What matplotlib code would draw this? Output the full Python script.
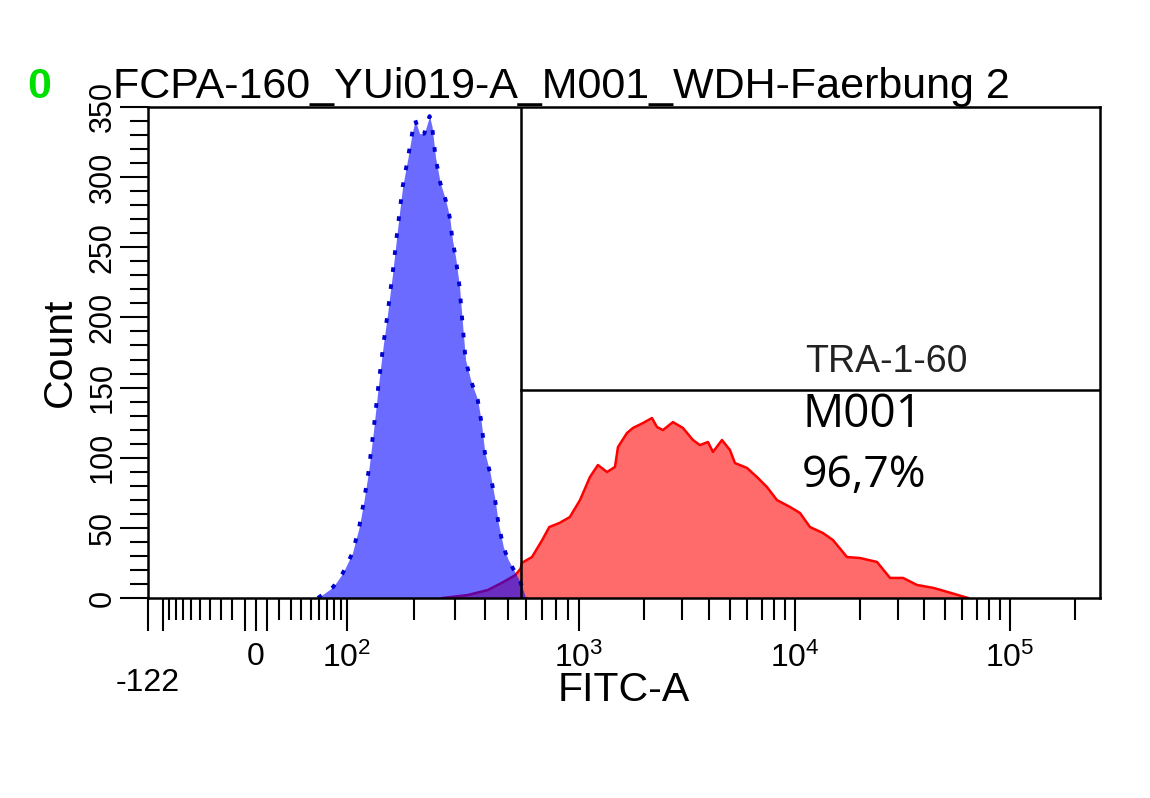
import numpy as np
import matplotlib
matplotlib.use('Agg')
import matplotlib.pyplot as plt

plt.rcParams['font.family'] = ['Liberation Sans', 'DejaVu Sans']
plt.rcParams['mathtext.fontset'] = 'custom'
plt.rcParams['mathtext.rm'] = 'Liberation Sans'
plt.rcParams['mathtext.it'] = 'Liberation Sans'

# ---------------- data ----------------
title = "FCPA-160_YUi019-A_M001_WDH-Faerbung 2"
gate_name = "TRA-1-60"
marker_name = "M001"
marker_pct = "96,7%"
gate_low = 570          # FITC-A value of marker left bound
gate_level = 148        # count level of marker bar

# unstained / control (blue)
blue_x = [58, 78, 93, 106, 114, 120, 126, 132, 139, 146,
          153, 161, 169, 178, 187, 196, 202, 211, 221, 233,
          239, 247, 259, 273, 284, 292, 301, 313, 323, 332,
          349, 374, 386, 401, 422, 443, 457, 480, 504, 540,
          568, 597]
blue_count = [0, 7.8, 17.8, 32, 50.6, 69.8, 91.2, 117.6, 150.4, 178.9,
              203, 231.6, 262.3, 293, 312, 331.4, 340.7, 331, 331, 343.5,
              335.7, 314.3, 295.8, 283.7, 271.6, 255.2, 243, 221.7, 193.2, 169.6,
              155.4, 141.1, 126.9, 103.4, 89.1, 69.8, 53.5, 36.4, 27.1, 17.8,
              10.7, 0]

# stained TRA-1-60 (red)
red_x = [265, 339, 413, 480, 540, 568, 574, 634, 700, 750,
         828, 915, 1011, 1124, 1224, 1348, 1468, 1516, 1668, 1778,
         1978, 2178, 2297, 2448, 2724, 3030, 3372, 3633, 3956, 4173,
         4592, 5000, 5275, 5995, 6672, 7419, 8254, 9482, 10550, 11740,
         13500, 15020, 17450, 20060, 24060, 27670, 31800, 36900, 44300, 53100,
         63800]
red_count = [0, 2.1, 5.7, 11.4, 16.4, 21, 25, 29.2, 41.3, 50.6,
             53.5, 57.7, 69.8, 86.2, 94.8, 89.8, 93.4, 107.6, 117.6, 121.2,
             124.7, 128.3, 121.9, 119.7, 125.4, 121.2, 112.6, 109, 111.2, 104.1,
             112.6, 105.5, 96.2, 92.7, 86.2, 79.1, 69.8, 64.9, 60.6, 50.6,
             46.3, 41.3, 29.2, 28.5, 25.7, 14.3, 14.3, 9.3, 7.1, 3.6,
             0]

x_major = [-122, -100, -10, 0, 10, 100, 1000, 10000, 100000]
x_major_labels = ['', '', '', '0', '', '$10^2$', '$10^3$', '$10^4$', '$10^5$']
x_minor = ([-90, -80, -70, -60, -50, -40, -30, -20]
           + [20, 30, 40, 50, 60, 70, 80, 90]
           + [m * 100 for m in range(2, 10)]
           + [m * 1000 for m in range(2, 10)]
           + [m * 10000 for m in range(2, 10)]
           + [200000])
y_major = [0, 50, 100, 150, 200, 250, 300, 350]
y_minor = [v for v in range(0, 351, 10) if v % 50]

# ------------- biexponential-like display scale -------------
C = 50.0
scale_vals = np.array([-122, -100, -10, 0, 10, 100, 1e3, 1e4, 1e5, 262144.0])
scale_frac = np.array([0.0, 0.0158, 0.1019, 0.1134, 0.1250, 0.2090,
                       0.4527, 0.6796, 0.9055, 1.0])
T = np.arcsinh(scale_vals / C)


def _lin(u, xs, ys):
    y = np.interp(u, xs, ys)
    lo = u < xs[0]
    hi = u > xs[-1]
    y = np.where(lo, ys[0] + (u - xs[0]) * (ys[1] - ys[0]) / (xs[1] - xs[0]), y)
    y = np.where(hi, ys[-1] + (u - xs[-1]) * (ys[-1] - ys[-2]) / (xs[-1] - xs[-2]), y)
    return y


def fwd(x):
    x = np.asarray(x, dtype=float)
    return _lin(np.arcsinh(x / C), T, scale_frac)


def inv(f):
    f = np.asarray(f, dtype=float)
    return C * np.sinh(_lin(f, scale_frac, T))


# ---------------- figure ----------------
W, H = 1150, 798
fig = plt.figure(figsize=(W / 100, H / 100), dpi=100)
ax = fig.add_axes([148 / W, 1 - 598 / H, 952 / W, 491 / H])
ax.set_xscale('function', functions=(fwd, inv))
ax.set_xlim(-122, 262144)
ax.set_ylim(0, 350)

ax.fill_between(red_x, red_count, 0, color='#ff6b6b', lw=0, zorder=1)
ax.plot(red_x, red_count, color='#ff0000', lw=1.8, zorder=2)
ax.fill_between(blue_x, blue_count, 0, color=(0, 0, 1, 0.58), lw=0, zorder=3)
ax.plot(blue_x, blue_count, color='#0000d0', lw=2.8, ls=(0, (1.2, 3.2)), zorder=4)

# marker gate
ax.axvline(gate_low, color='black', lw=1.8, zorder=5)
ax.plot([gate_low, 262144], [gate_level, gate_level], color='black', lw=1.8, zorder=5)

for s in ax.spines.values():
    s.set_linewidth(1.8)
    s.set_color('black')
    s.set_zorder(6)

ax.set_xticks(x_major)
ax.set_xticklabels(x_major_labels)
ax.set_xticks(x_minor, minor=True)
ax.set_yticks(y_major)
ax.set_yticklabels([str(v) for v in y_major])
ax.set_yticks(y_minor, minor=True)

ax.tick_params(axis='x', which='major', length=24, width=1.5, pad=8, labelsize=23)
ax.tick_params(axis='x', which='minor', length=16, width=1.5)
ax.tick_params(axis='y', which='major', length=20, width=1.5, pad=2, labelsize=22,
               labelrotation=90)
ax.tick_params(axis='y', which='minor', length=13, width=1.5)
for lbl in ax.get_yticklabels():
    lbl.set_va('center')

ax.text(-122, -0.1426, '-122', transform=ax.get_xaxis_transform(),
        ha='center', va='top', fontsize=23)

ax.set_xlabel('FITC-A', fontsize=29.5, labelpad=-2)
ax.set_ylabel('Count', fontsize=29.5, labelpad=6)

fig.text(113 / W, 1 - 98 / H, title, fontsize=31, ha='left', va='baseline')
fig.text(27 / W, 1 - 98 / H, '0', fontsize=31, fontweight='bold',
         color='#00e000', ha='left', va='baseline')

ax.text(0.690, 0.460, gate_name, transform=ax.transAxes, fontsize=27,
        color='#222222', ha='left', va='baseline', zorder=7)
ax.text(0.687, 0.348, marker_name, transform=ax.transAxes, fontsize=33,
        family=['Open Sans', 'DejaVu Sans'], ha='left', va='baseline', zorder=7)
ax.text(0.687, 0.226, marker_pct, transform=ax.transAxes, fontsize=32,
        family=['Open Sans', 'DejaVu Sans'], ha='left', va='baseline', zorder=7)

fig.savefig('out.png', dpi=100, facecolor='white')
